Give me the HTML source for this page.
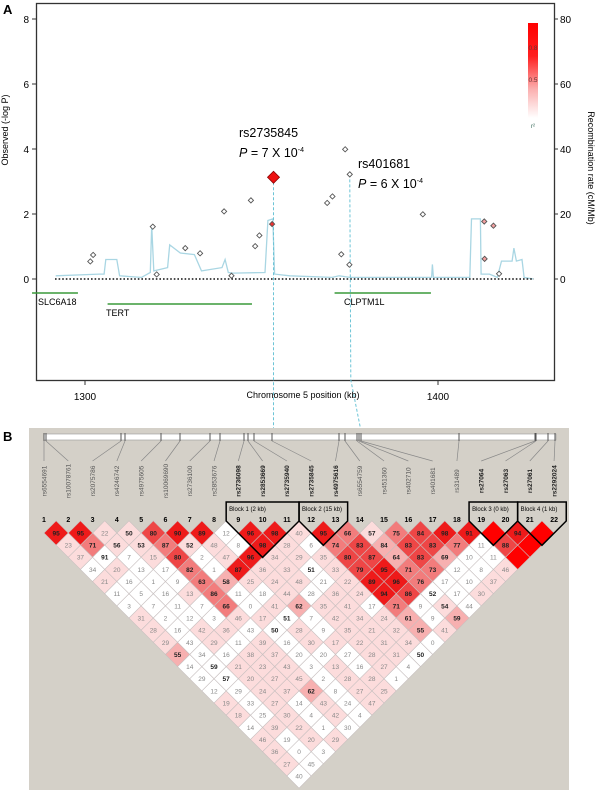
<!DOCTYPE html>
<html><head><meta charset="utf-8">
<style>
html,body{margin:0;padding:0;background:#fff;}
svg{display:block;font-family:"Liberation Sans",Arial,sans-serif;}
</style></head>
<body>
<svg id="fig" width="600" height="793" viewBox="0 0 600 793" xmlns="http://www.w3.org/2000/svg">
<defs>
<linearGradient id="lg" x1="0" y1="0" x2="0" y2="1">
<stop offset="0" stop-color="#ff0000"/><stop offset="0.35" stop-color="#ff2020"/>
<stop offset="0.7" stop-color="#fbb0b0"/><stop offset="1" stop-color="#ffffff"/>
</linearGradient>
</defs>
<g id="panelA"></g>
<g id="panelB"></g>
</svg>
<script>
// ---------- Panel A data ----------
const snpKb   = [1301.5,1302.3,1319.2,1320.3,1328.4,1332.6,1339.4,1341.5,1347.0,1348.2,1349.4,1353.0,1368.6,1370.1,1372.6,1373.7,1374.9,1375.0,1395.7,1413.1,1413.2,1415.7,1417.3];
const snpLogP = [0.54,0.74,1.61,0.14,0.95,0.79,2.08,0.10,2.42,1.01,1.34,1.69,2.34,2.54,0.76,3.99,0.44,3.22,1.99,1.77,0.62,1.64,0.16];
const snpFill = ["#fff","#fff","#fff","#fff","#fff","#fff","#fff","#fff","#fff","#fff","#fff","#f03030","#fff","#fff","#fff","#fff","#fff","#fff","#fff","#f4a0a0","#f4a0a0","#f4a0a0","#fff"];
const leadKb = 1353.4, leadLogP = 3.13;
const recKb   = [1291.7,1304,1305.4,1305.9,1309,1309.8,1316,1318.5,1318.9,1319.5,1323.4,1324,1327,1331,1333,1338.8,1339.7,1340.6,1342,1351,1351.8,1353.2,1353.7,1358,1370,1372,1375,1385,1398.2,1398.4,1398.7,1409,1409.5,1412,1412.2,1414.6,1416.8,1418,1421,1421.5,1422.2,1423.8,1424.4,1427];
const recRate = [1,1.5,1.5,6,6,1,0.5,2,16.5,2.5,3.5,10.5,8,7.5,2.5,3.5,6,2,1.8,2,18,18.5,1.5,1,0.5,1,0.5,0.5,0.5,4.5,0.5,0.5,18.5,18.5,1.5,1.5,0.5,5.5,5.5,9.5,5.5,6,0.5,0];
const yTicksL = [0,2,4,6,8];
const yTicksR = [0,20,40,60,80];
const xTicks  = [1300,1400];
const genes = [{n:"SLC6A18",s:1285,e:1298,y:293,lx:38,ly:305},{n:"TERT",s:1306.4,e:1347.3,y:304,lx:106,ly:316},{n:"CLPTM1L",s:1370.7,e:1398,y:293,lx:344,ly:305}];

// ---------- Panel B data ----------
const snpNames = ["rs6554691","rs10078761","rs2075786","rs4246742","rs4975605","rs10069690","rs2736100","rs2853676","rs2736098","rs2853669","rs2735940","rs2735845","rs4975616","rs6554759","rs451360","rs402710","rs401681","rs31489","rs27064","rs27063","rs27061","rs2292024"];
const physPos = [44,46,121,125,161,180,210,220,244,248,254,272,339,345,357,359,361,459,535,536,548,555];
const ldVals = [
[95,95,22,50,80,90,89,12,96,98,40,95,66,57,75,84,98,91,null,94,null],
[23,71,56,53,87,52,48,8,98,28,6,74,83,84,83,83,77,11,88,null],
[37,91,7,15,80,2,47,96,34,29,35,80,87,64,83,69,10,11,null],
[34,20,13,17,82,1,87,36,33,51,33,79,95,71,73,12,8,46],
[21,16,1,9,63,58,25,24,48,21,22,89,96,76,17,10,37],
[11,5,16,13,86,11,18,44,28,36,24,94,86,52,17,30],
[3,7,11,7,66,0,41,62,35,41,17,71,9,54,44],
[31,2,12,3,46,17,51,7,42,34,24,61,9,59],
[28,16,42,36,43,50,28,9,35,21,32,55,41],
[29,43,29,11,39,16,30,17,22,31,34,0],
[55,34,16,38,37,20,20,27,28,31,50],
[14,59,21,23,43,3,13,16,27,4],
[29,57,20,27,45,2,28,28,1],
[12,29,24,37,62,8,27,25],
[19,33,27,14,43,24,47],
[18,25,30,4,42,4],
[14,39,22,1,30],
[46,19,20,29],
[36,0,3],
[27,45],
[40]];
const ldShade = [
[5,5,1,1,4,5,5,0,5,5,1,5,3,1,3,4,5,5,6,5,6],
[1,3,1,1,3,1,1,0,5,1,0,3,4,2,4,4,3,0,4,6],
[1,0,0,1,4,0,1,5,1,1,1,4,4,2,4,2,0,0,6],
[0,1,0,0,3,0,5,1,1,0,1,4,5,3,3,0,0,1],
[1,0,0,0,3,2,1,1,1,0,1,5,5,3,0,0,1],
[0,0,0,1,3,0,0,1,0,1,1,5,4,0,0,1],
[0,0,0,0,3,0,1,2,1,1,0,3,0,1,0],
[1,0,0,0,1,1,0,0,1,1,1,2,0,2],
[1,0,1,1,0,0,1,0,1,1,1,2,1],
[1,0,1,0,1,0,1,1,1,1,1,0],
[2,0,0,1,1,0,0,0,1,1,0],
[0,0,1,1,1,0,1,0,1,0],
[0,0,1,1,1,0,1,1,0],
[0,0,1,1,2,0,1,1],
[1,0,1,0,1,0,1],
[1,0,1,0,1,0],
[0,1,1,0,0],
[1,0,1,1],
[1,0,0],
[1,0],
[0]];
const blocks = [{l:"Block 1 (2 kb)",a:9,b:11},{l:"Block 2 (15 kb)",a:12,b:13},{l:"Block 3 (0 kb)",a:19,b:20},{l:"Block 4 (1 kb)",a:21,b:22}];
const boldSnps = [9,10,11,12,13,19,20,21,22];

const NS="http://www.w3.org/2000/svg";
function mk(parent,tag,attrs,txt){const e=document.createElementNS(NS,tag);for(const k in attrs)e.setAttribute(k,attrs[k]);if(txt!==undefined)e.textContent=txt;parent.appendChild(e);return e;}

// ---------- Panel A ----------
const A=document.getElementById('panelA');
const xs=kb=>85+(kb-1300)*3.53;
const ys=v=>279-v*32.5;
const yr=r=>279-r*3.25;
let e;
e=mk(A,'text',{x:3,y:14,'font-size':13,'font-weight':'bold'},'A');

e=mk(A,'rect',{x:36.5,y:3.5,width:518,height:377,fill:'none',stroke:'#333','stroke-width':1.3});

yTicksL.forEach(t=>{const y=ys(t);mk(A,'line',{x1:32,x2:36,y1:y,y2:y,stroke:'#333'});
 e=mk(A,'text',{x:29,y:y+4,'font-size':10,'text-anchor':'end'},t);
 });
yTicksR.forEach(t=>{const y=yr(t);mk(A,'line',{x1:554,x2:558,y1:y,y2:y,stroke:'#333'});
 e=mk(A,'text',{x:560,y:y+4,'font-size':10},t);
 });
xTicks.forEach(t=>{const x=xs(t);mk(A,'line',{x1:x,x2:x,y1:380,y2:385,stroke:'#333'});
 e=mk(A,'text',{x:x,y:400,'font-size':10,'text-anchor':'middle'},t);
 });
e=mk(A,'text',{x:303,y:398,'font-size':9,'text-anchor':'middle'},'Chromosome 5 position (kb)');

e=mk(A,'text',{x:0,y:0,'font-size':9,'text-anchor':'middle',transform:'translate(8,130) rotate(-90)'},'Observed (-log P)');

e=mk(A,'text',{x:0,y:0,'font-size':9,'text-anchor':'middle',transform:'translate(588,168) rotate(90)'},'Recombination rate (cM/Mb)');

let d=recKb.map((k,i)=>(i?'L':'M')+xs(k).toFixed(1)+','+yr(recRate[i]).toFixed(1)).join(' ');
e=mk(A,'path',{d:d,fill:'none',stroke:'#a9d6e3','stroke-width':1.3});

e=mk(A,'line',{x1:55,x2:534,y1:ys(0),y2:ys(0),stroke:'#111','stroke-width':1.6,'stroke-dasharray':'1.6,2'});

genes.forEach(g=>{e=mk(A,'line',{x1:xs(g.s),x2:xs(g.e),y1:g.y,y2:g.y,stroke:'#3a9a3a','stroke-width':1.5});
 
 e=mk(A,'text',{x:g.lx,y:g.ly,'font-size':9},g.n);
 });
e=mk(A,'path',{d:`M${xs(leadKb)},${ys(leadLogP)} L${xs(leadKb)},436`,stroke:'#6cc4d6','stroke-width':1,'stroke-dasharray':'3,2',fill:'none'});

e=mk(A,'path',{d:`M${xs(1375)},${ys(3.22)} L${xs(1375.3)},380 L362,436`,stroke:'#6cc4d6','stroke-width':1,'stroke-dasharray':'3,2',fill:'none'});

snpKb.forEach((k,i)=>{const x=xs(k),y=ys(snpLogP[i]),r=2.6;
 e=mk(A,'polygon',{points:`${x},${y-r} ${x+r},${y} ${x},${y+r} ${x-r},${y}`,fill:snpFill[i],stroke:'#555','stroke-width':0.9});
 });
{const x=xs(leadKb),y=ys(leadLogP),r=6;
 e=mk(A,'polygon',{points:`${x},${y-r} ${x+r},${y} ${x},${y+r} ${x-r},${y}`,fill:'#ee1111',stroke:'#800','stroke-width':0.8});
 }
e=mk(A,'text',{x:239,y:137,'font-size':12.5},'rs2735845');
e=mk(A,'text',{x:239,y:157,'font-size':12.5},'');
e.innerHTML='<tspan font-style="italic">P</tspan> = 7 X 10<tspan dy="-5" font-size="7">-4</tspan>';
e=mk(A,'text',{x:358,y:168,'font-size':12.5},'rs401681');
e=mk(A,'text',{x:358,y:188,'font-size':12.5},'');
e.innerHTML='<tspan font-style="italic">P</tspan> = 6 X 10<tspan dy="-5" font-size="7">-4</tspan>';
e=mk(A,'rect',{x:528,y:23,width:10,height:95,fill:'url(#lg)'});
e=mk(A,'text',{x:533,y:50,'font-size':6.5,'text-anchor':'middle',fill:'#633'},'0.8');
e=mk(A,'text',{x:533,y:82,'font-size':6.5,'text-anchor':'middle',fill:'#633'},'0.5');
e=mk(A,'text',{x:531,y:128,'font-size':6,fill:'#365'},'r²');

// ---------- Panel B ----------
const B=document.getElementById('panelB');
const cx=i=>44+(i-1)*24.29;
const H=12.15, Y0=533;
e=mk(B,'text',{x:3,y:441,'font-size':13,'font-weight':'bold'},'B');
e=mk(B,'rect',{x:29,y:428,width:540,height:362,fill:'#d4d0c8'});
e=mk(B,'rect',{x:44,y:434,width:512,height:6,fill:'#fff',stroke:'#999','stroke-width':0.6});
const shadeCol=["#ffffff","#fcdcdc","#f7b0b0","#f27c7c","#ee4646","#ee1a1a","#ff0000"];
snpNames.forEach((n,k)=>{const i=k+1,p=physPos[k],x=cx(i);
 mk(B,'line',{x1:p,x2:p,y1:433,y2:441,stroke:'#555','stroke-width':1});
 e=mk(B,'line',{x1:p,y1:441,x2:x,y2:461,stroke:'#888','stroke-width':0.7});
 const bold=boldSnps.includes(i);
 e=mk(B,'text',{x:0,y:0,'font-size':6.5,'text-anchor':'middle','font-weight':bold?'bold':'normal',fill:bold?'#222':'#555',transform:`translate(${x+2.3},481) rotate(-90)`},n);
 
 e=mk(B,'text',{x:x,y:522,'font-size':7,'font-weight':'bold','text-anchor':'middle'},i);
 });
ldVals.forEach((row,r)=>{row.forEach((v,k)=>{const a=k+1,b=k+1+r+1;const x=(cx(a)+cx(b))/2,y=Y0+r*H;
 const s=ldShade[r][k];
 e=mk(B,'polygon',{points:`${x},${y-H} ${x+H},${y} ${x},${y+H} ${x-H},${y}`,fill:shadeCol[s],stroke:'#c8c0c0','stroke-width':0.6});
 
 if(v!==null){e=mk(B,'text',{x:x,y:y+2.4,'font-size':6.5,'text-anchor':'middle',fill:v>=50?'#222':'#888','font-weight':v>=50?'bold':'normal'},v);
 }});});
blocks.forEach(bk=>{const L=cx(bk.a)-H,R=cx(bk.b)+H,n=bk.b-bk.a+1,mx=(cx(bk.a)+cx(bk.b))/2;
 e=mk(B,'polygon',{points:`${L},502 ${R},502 ${R},521 ${mx},${521+n*H} ${L},521`,fill:'none',stroke:'#000','stroke-width':1.5});
 
 e=mk(B,'text',{x:L+3,y:511,'font-size':6},bk.l);});
</script>
</body></html>
